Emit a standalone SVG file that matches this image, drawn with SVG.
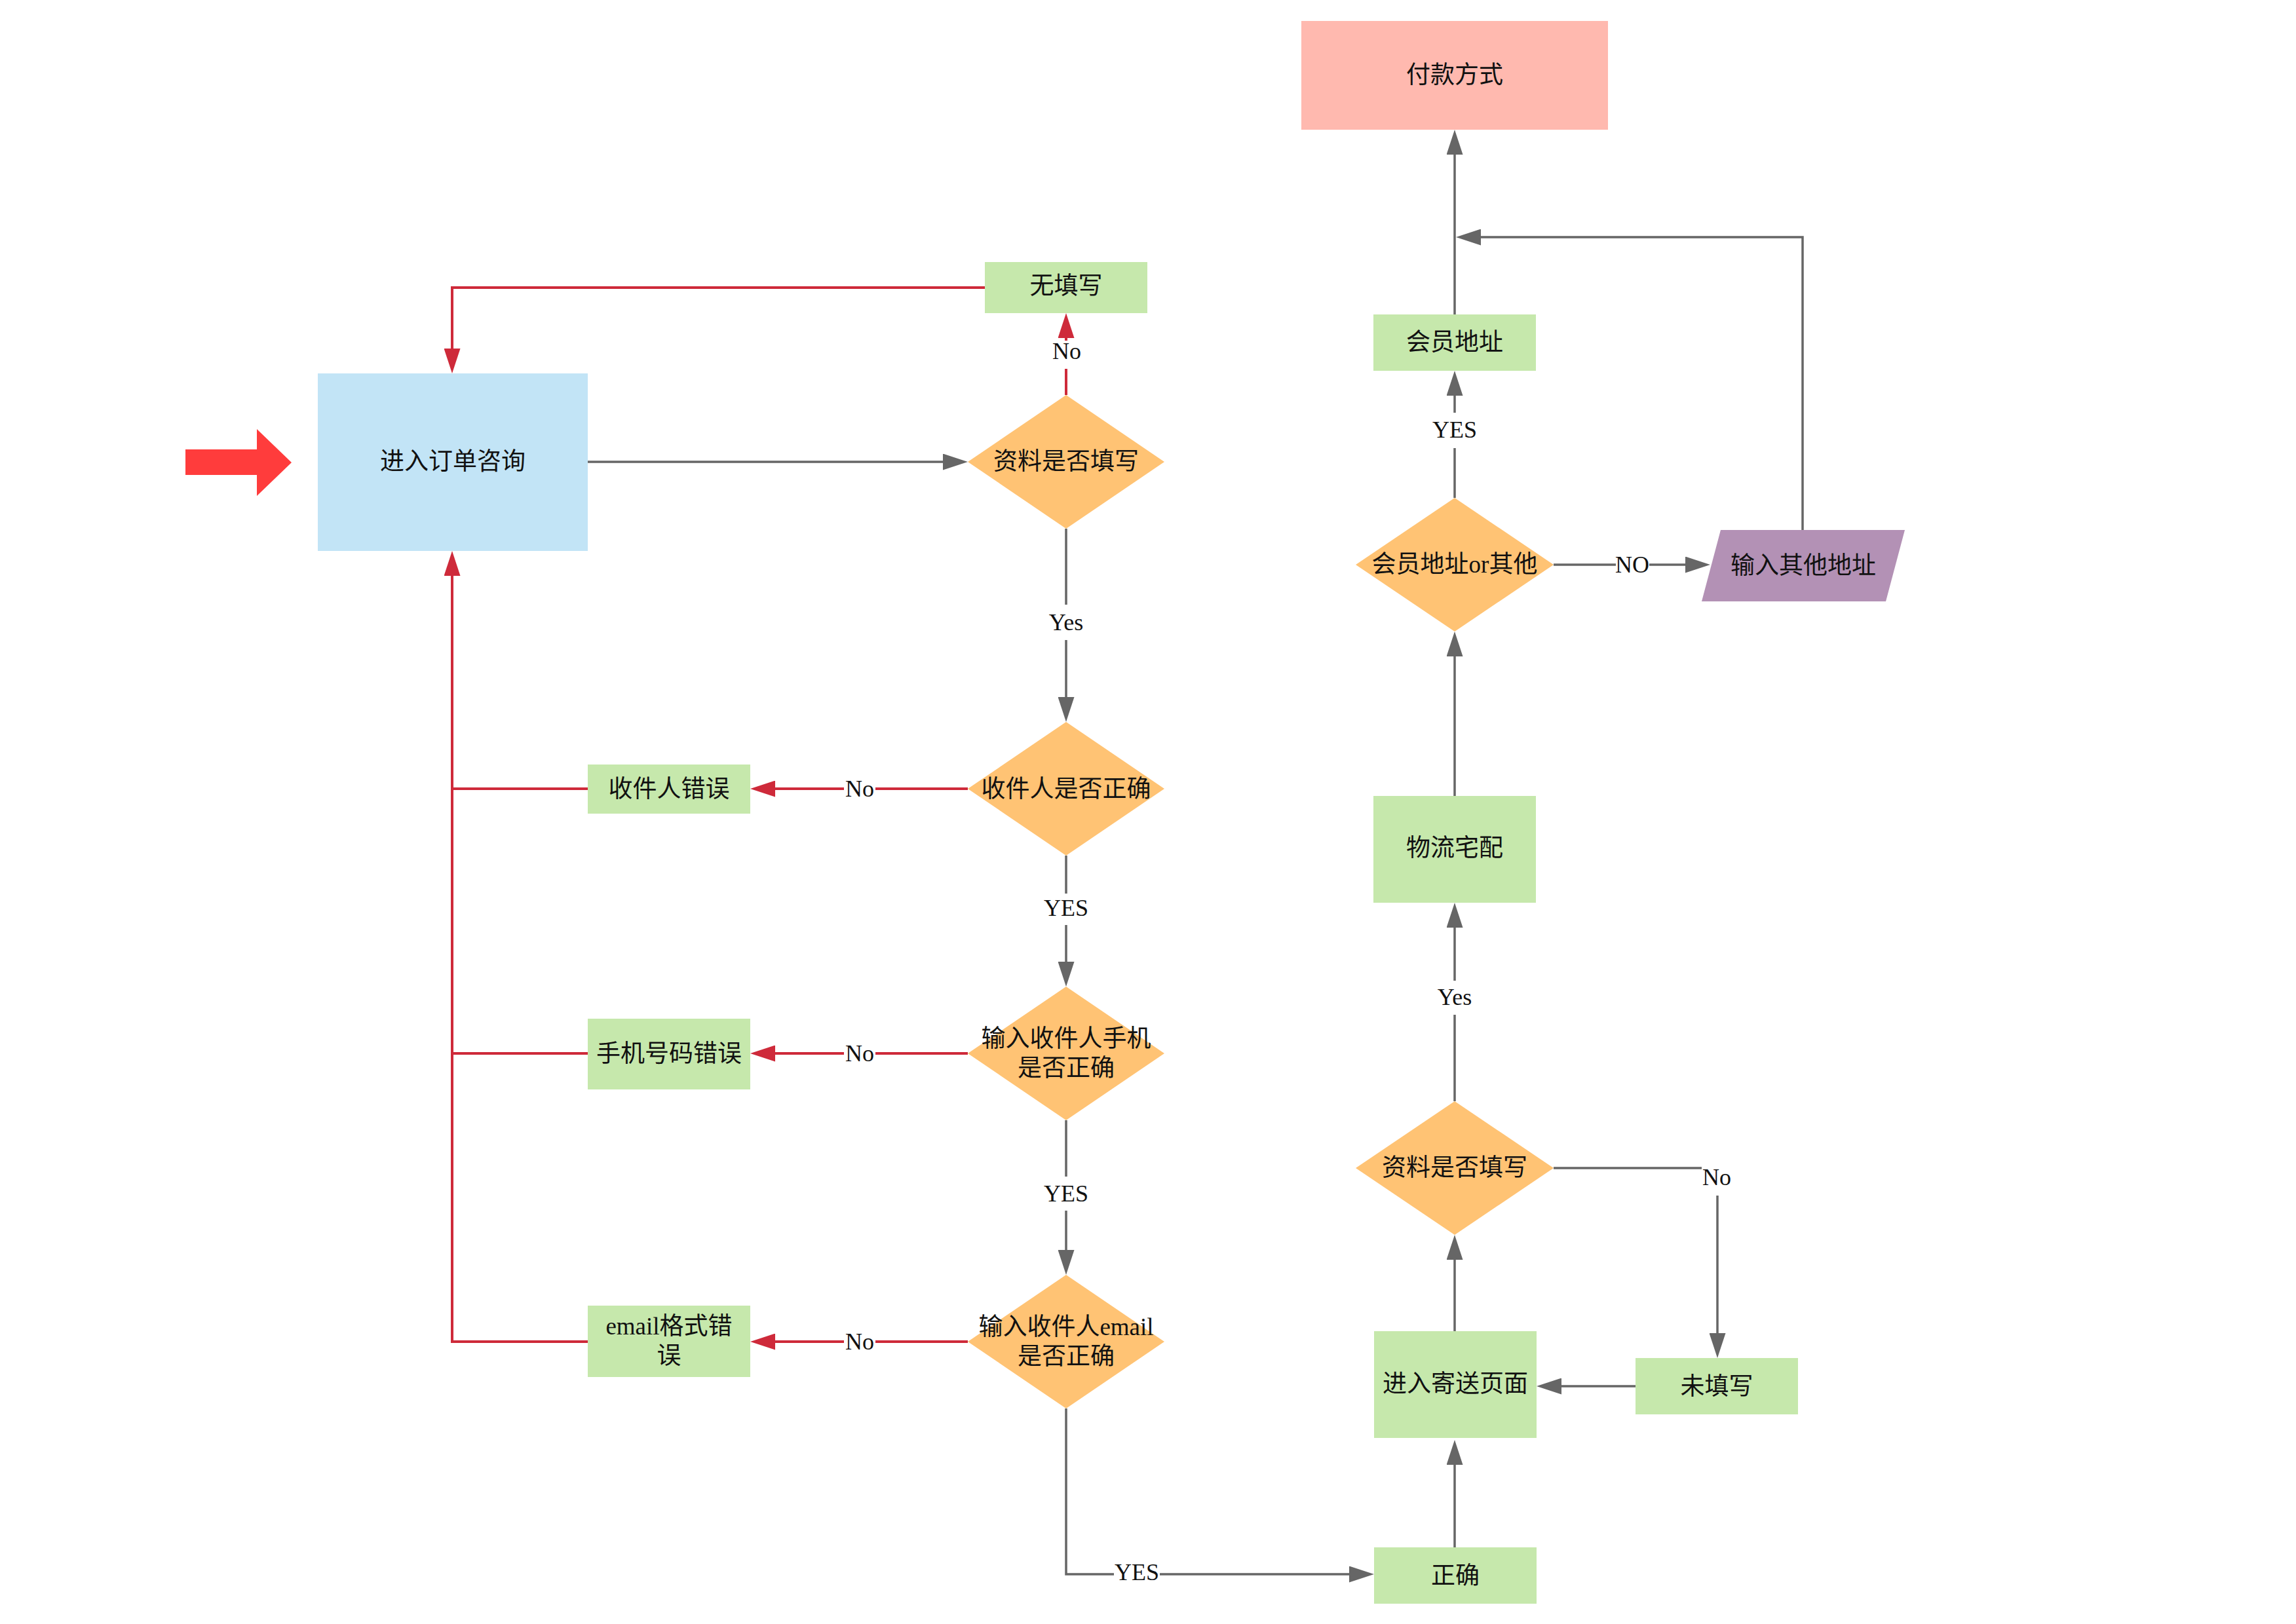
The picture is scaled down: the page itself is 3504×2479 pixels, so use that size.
<svg xmlns="http://www.w3.org/2000/svg" width="3504" height="2479" viewBox="0 0 3504 2479">
<style>
.t{font-family:"Liberation Serif","Noto Sans CJK SC",serif;font-size:37px;fill:#111;text-anchor:middle}
.l{font-family:"Liberation Serif","Noto Sans CJK SC",serif;font-size:36px;fill:#111;text-anchor:middle}
.g{fill:none;stroke:#666666;stroke-width:3.5}
.r{fill:none;stroke:#CE2A3A;stroke-width:4}
.green{fill:#C6E8AC}
.dia{fill:#FFC374}
</style>
<defs>
<marker id="ag" markerUnits="userSpaceOnUse" markerWidth="38" markerHeight="25" viewBox="0 0 38 25" refX="0" refY="12.5" orient="auto"><path d="M0 0L38 12.5L0 25z" fill="#666666"/></marker>
<marker id="ar" markerUnits="userSpaceOnUse" markerWidth="38" markerHeight="25" viewBox="0 0 38 25" refX="0" refY="12.5" orient="auto"><path d="M0 0L38 12.5L0 25z" fill="#CE2A3A"/></marker>
</defs>
<rect width="3504" height="2479" fill="#ffffff"/>

<g id="connectors">
<path class="g" d="M897 705H1439" marker-end="url(#ag)"/>
<path class="g" d="M1627 807V923"/><path class="g" d="M1627 977V1064" marker-end="url(#ag)"/>
<path class="g" d="M1627 1306V1364"/><path class="g" d="M1627 1412V1468" marker-end="url(#ag)"/>
<path class="g" d="M1627 1710V1796"/><path class="g" d="M1627 1848V1908" marker-end="url(#ag)"/>
<path class="g" d="M1627 2150V2403H1700"/><path class="g" d="M1770 2403H2059" marker-end="url(#ag)"/>
<path class="g" d="M2220 2362V2236" marker-end="url(#ag)"/>
<path class="g" d="M2220 2032V1923" marker-end="url(#ag)"/>
<path class="g" d="M2371 1783H2597"/><path class="g" d="M2621 1825V2035" marker-end="url(#ag)"/>
<path class="g" d="M2496 2116H2383" marker-end="url(#ag)"/>
<path class="g" d="M2220 1681V1549"/><path class="g" d="M2220 1497V1416" marker-end="url(#ag)"/>
<path class="g" d="M2220 1215V1002" marker-end="url(#ag)"/>
<path class="g" d="M2220 760V684"/><path class="g" d="M2220 630V604" marker-end="url(#ag)"/>
<path class="g" d="M2220 480V236" marker-end="url(#ag)"/>
<path class="g" d="M2371 862H2466"/><path class="g" d="M2517 862H2572" marker-end="url(#ag)"/>
<path class="g" d="M2751 809V362H2260" marker-end="url(#ag)"/>

<path class="r" d="M1627 603V563"/><path class="r" d="M1627 520V516" marker-end="url(#ar)"/>
<path class="r" d="M1503 439H690V532" marker-end="url(#ar)"/>
<path class="r" d="M1477 1204H1336"/><path class="r" d="M1288 1204H1183" marker-end="url(#ar)"/>
<path class="r" d="M1477 1608H1336"/><path class="r" d="M1288 1608H1183" marker-end="url(#ar)"/>
<path class="r" d="M1477 2048H1336"/><path class="r" d="M1288 2048H1183" marker-end="url(#ar)"/>
<path class="r" d="M897 1204H690"/>
<path class="r" d="M897 1608H690"/>
<path class="r" d="M897 2048H690V879" marker-end="url(#ar)"/>

<text class="l" x="1628" y="548">No</text>
<text class="l" x="1627" y="962">Yes</text>
<text class="l" x="1312" y="1216">No</text>
<text class="l" x="1627" y="1398">YES</text>
<text class="l" x="1312" y="1620">No</text>
<text class="l" x="1627" y="1834">YES</text>
<text class="l" x="1312" y="2060">No</text>
<text class="l" x="1735" y="2412">YES</text>
<text class="l" x="2220" y="668">YES</text>
<text class="l" x="2491" y="874">NO</text>
<text class="l" x="2220" y="1534">Yes</text>
<text class="l" x="2620" y="1809">No</text>
</g>

<g id="start-arrow"><path d="M283 686H392V655L445 706L392 757V725H283z" fill="#FF3C3C"/></g>

<g id="n-order"><rect x="485" y="570" width="412" height="271" fill="#C2E4F6"/><text class="t" x="691" y="717">进入订单咨询</text></g>
<g id="n-nofill"><rect class="green" x="1503" y="400" width="248" height="78"/><text class="t" x="1627" y="449">无填写</text></g>
<g id="d-filled"><polygon class="dia" points="1627,603 1777,705 1627,807 1477,705"/><text class="t" x="1627" y="717">资料是否填写</text></g>
<g id="d-recipient"><polygon class="dia" points="1627,1102 1777,1204 1627,1306 1477,1204"/><text class="t" x="1627" y="1217">收件人是否正确</text></g>
<g id="n-recipient-err"><rect class="green" x="897" y="1167" width="248" height="75"/><text class="t" x="1021" y="1217">收件人错误</text></g>
<g id="d-phone"><polygon class="dia" points="1627,1506 1777,1608 1627,1710 1477,1608"/><text class="t" x="1627" y="1598">输入收件人手机</text><text class="t" x="1627" y="1643">是否正确</text></g>
<g id="n-phone-err"><rect class="green" x="897" y="1555" width="248" height="108"/><text class="t" x="1021" y="1621">手机号码错误</text></g>
<g id="d-email"><polygon class="dia" points="1627,1946 1777,2048 1627,2150 1477,2048"/><text class="t" x="1627" y="2038">输入收件人email</text><text class="t" x="1627" y="2083">是否正确</text></g>
<g id="n-email-err"><rect class="green" x="897" y="1993" width="248" height="109"/><text class="t" x="1021" y="2037">email格式错</text><text class="t" x="1021" y="2082">误</text></g>

<g id="n-pay"><rect x="1986" y="32" width="468" height="166" fill="#FFB9AF"/><text class="t" x="2220" y="127">付款方式</text></g>
<g id="n-member-addr"><rect class="green" x="2096" y="480" width="248" height="86"/><text class="t" x="2220" y="535">会员地址</text></g>
<g id="d-addr"><polygon class="dia" points="2220,760 2371,862 2220,964 2069,862"/><text class="t" x="2220" y="874">会员地址or其他</text></g>
<g id="n-other-addr"><polygon points="2626,809 2907,809 2878,918 2597,918" fill="#B391B5"/><text class="t" x="2752" y="876">输入其他地址</text></g>
<g id="n-logistics"><rect class="green" x="2096" y="1215" width="248" height="163"/><text class="t" x="2220" y="1307">物流宅配</text></g>
<g id="d-filled2"><polygon class="dia" points="2220,1681 2371,1783 2220,1885 2069,1783"/><text class="t" x="2220" y="1795">资料是否填写</text></g>
<g id="n-ship-page"><rect class="green" x="2097" y="2032" width="248" height="163"/><text class="t" x="2221" y="2125">进入寄送页面</text></g>
<g id="n-unfilled"><rect class="green" x="2496" y="2073" width="248" height="86"/><text class="t" x="2620" y="2129">未填写</text></g>
<g id="n-correct"><rect class="green" x="2097" y="2362" width="248" height="86"/><text class="t" x="2221" y="2418">正确</text></g>
</svg>
